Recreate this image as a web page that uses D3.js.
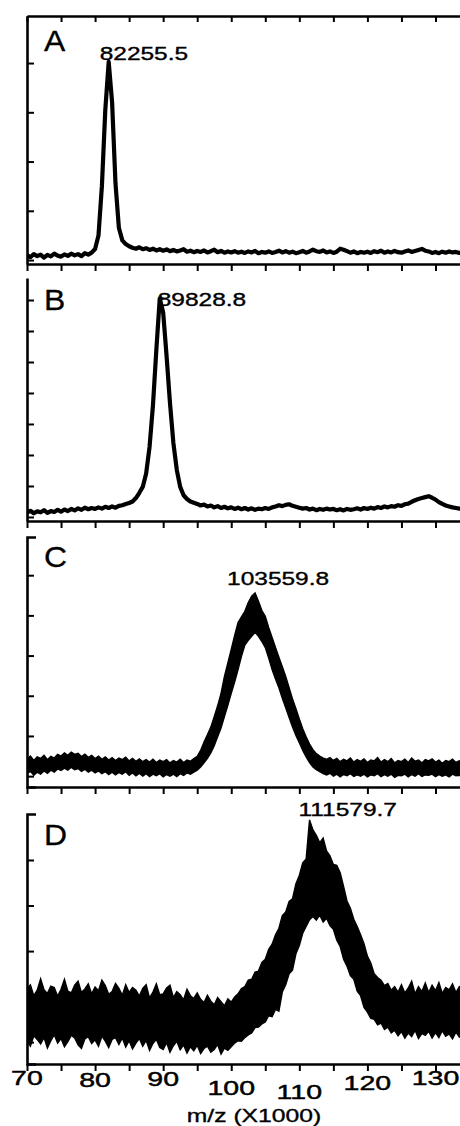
<!DOCTYPE html>
<html><head><meta charset="utf-8">
<script src="https://cdn.jsdelivr.net/npm/d3@7"></script>
<style>body{margin:0;background:#fff}svg{display:block}</style>
</head><body>
<script>
// ---------- DATA ----------
const mzGrid = [
70,70.5,71,71.5,72,72.5,73,73.5,74,74.5,
75,75.5,76,76.5,77,77.5,78,78.5,79,79.5,
80,80.5,81,81.5,82,82.5,83,83.5,84,84.5,
85,85.5,86,86.5,87,87.5,88,88.5,89,89.5,
90,90.5,91,91.5,92,92.5,93,93.5,94,94.5,
95,95.5,96,96.5,97,97.5,98,98.5,99,99.5,
100,100.5,101,101.5,102,102.5,103,103.5,104,104.5,
105,105.5,106,106.5,107,107.5,108,108.5,109,109.5,
110,110.5,111,111.5,112,112.5,113,113.5,114,114.5,
115,115.5,116,116.5,117,117.5,118,118.5,119,119.5,
120,120.5,121,121.5,122,122.5,123,123.5,124,124.5,
125,125.5,126,126.5,127,127.5,128,128.5,129,129.5,
130,130.5,131,131.5,132,132.5,133,133.5,134];

const intensityA = [
2.0,1.2,2.4,1.6,2.2,1.0,2.1,1.5,2.6,1.8,
1.4,2.3,1.7,2.6,1.9,2.4,1.6,2.8,2.2,3.0,
4.5,10,30,61,80.5,64,31,13,8,6.5,
5.6,5.0,4.6,5.2,4.4,4.8,4.1,4.6,3.9,4.4,
3.8,4.3,3.6,4.1,3.5,3.9,4.4,3.4,3.8,3.2,
3.7,3.3,3.9,3.1,3.6,4.2,3.2,3.7,3.0,3.5,
3.1,3.6,3.0,3.4,2.9,3.5,3.1,3.7,2.8,3.3,
3.0,3.5,2.9,3.3,3.8,3.1,3.6,3.0,3.4,2.8,
3.2,3.7,3.0,3.5,4.2,3.6,3.3,3.9,3.1,3.5,
2.9,3.4,4.6,4.2,3.6,3.0,3.5,2.8,3.3,3.0,
3.4,2.9,3.6,3.2,3.8,3.0,3.5,3.1,3.7,3.2,
3.0,3.5,3.9,3.3,3.7,4.1,4.5,3.8,3.5,2.9,
3.3,2.8,3.4,3.0,3.5,3.1,3.3,2.9,3.2];

const intensityB = [
1.4,2.0,1.2,1.8,1.5,2.2,1.3,1.9,1.6,2.3,
1.7,2.4,1.9,2.6,2.1,2.8,2.3,3.0,2.5,2.9,
2.6,3.1,2.7,3.3,2.9,3.4,3.0,3.6,3.8,4.2,
4.5,5.0,6.1,7.8,9.7,14,22.6,36,54,70.5,
66,52,36.8,23.9,15.2,9.7,7.0,5.8,5.0,4.6,
4.2,3.7,4.0,3.4,3.7,3.1,3.5,2.9,3.3,2.8,
3.1,2.6,3.0,2.5,2.9,2.4,2.8,2.3,2.7,2.5,
2.9,2.6,3.1,3.4,3.8,3.5,3.9,4.1,3.6,3.3,
3.0,2.7,2.9,2.4,2.7,2.2,2.6,2.3,2.7,2.4,
2.6,2.2,2.5,2.1,2.6,2.3,2.5,2.8,2.4,2.9,
2.6,3.0,2.7,3.2,2.9,3.4,3.1,3.5,3.3,3.8,
3.6,4.1,4.3,4.9,5.4,5.8,6.1,6.4,6.7,6.2,
5.6,4.8,4.2,3.7,3.4,3.1,2.9,2.7,2.6];

const highC = [
4.2,5.0,3.9,4.8,4.4,5.2,4.1,4.9,4.5,5.4,
5.0,5.8,5.2,6.0,5.4,5.7,4.9,5.5,4.7,5.2,
4.4,5.0,4.2,4.8,4.0,4.6,3.9,4.5,4.1,4.7,
3.8,4.4,3.7,4.3,3.6,4.1,3.5,4.2,3.4,4.0,
3.6,4.1,3.3,3.9,3.5,4.2,3.4,4.0,3.7,4.4,
4.9,6.4,8.5,10.3,12.2,14.8,17.5,20.6,24.8,28.2,
31.5,35.0,38.2,39.6,41.0,43.2,44.8,45.6,43.5,41.2,
39.8,37.0,34.5,32.0,29.6,27.2,24.8,22.0,19.2,16.8,
14.2,11.8,9.8,8.0,6.6,5.6,5.0,4.5,4.2,4.6,
3.9,4.4,3.6,4.2,3.8,4.5,3.5,4.1,3.7,4.3,
3.4,4.0,3.8,4.6,3.5,4.1,3.6,4.4,3.3,3.9,
3.6,4.2,3.4,4.5,3.7,4.0,3.3,4.1,3.8,4.3,
3.5,4.0,3.2,3.9,3.6,4.2,3.4,3.8,3.5];

const lowC = [
0.6,1.2,0.2,1.0,0.5,1.3,0.7,1.5,1.0,1.8,
1.4,2.0,1.5,2.2,1.6,1.9,1.2,1.7,1.0,1.5,
0.8,1.3,0.6,1.1,0.4,1.0,0.3,0.9,0.5,1.1,
0.2,0.8,0.1,0.7,0.0,0.6,-0.1,0.5,0.1,0.6,
-0.2,0.4,0.0,0.5,-0.1,0.6,0.2,0.8,0.5,1.0,
1.5,2.3,3.3,4.4,5.8,7.6,9.8,12.0,14.8,17.6,
20.6,23.4,26.5,29.8,32.6,33.8,34.8,35.8,34.8,33.5,
32.0,29.4,26.5,24.2,22.0,19.4,17.0,14.6,12.2,10.1,
8.3,6.4,4.8,3.4,2.3,1.6,1.1,0.6,0.3,0.7,
0.0,0.5,-0.2,0.4,0.1,0.6,-0.1,0.3,0.0,0.5,
-0.2,0.3,0.1,0.6,-0.1,0.4,0.0,0.5,-0.3,0.2,
0.1,0.5,-0.2,0.4,0.0,0.6,-0.1,0.3,0.2,0.5,
-0.1,0.4,0.0,0.3,-0.2,0.5,0.1,0.2,0.0];

const highD = [
11.8,12.6,10.2,11.4,13.9,11.5,10.7,12.3,12.0,10.1,
11.6,13.8,11.2,10.8,12.5,13.4,10.9,11.7,12.8,10.6,
12.1,11.3,13.6,12.4,10.5,11.1,12.9,11.8,10.3,12.6,
10.9,12.0,11.4,10.1,11.8,12.6,9.7,11.0,12.8,10.4,
10.6,11.9,12.5,9.8,11.1,10.4,9.3,11.6,10.2,9.6,
10.8,9.4,8.7,10.3,9.0,8.2,9.8,8.9,8.0,9.5,
8.8,9.9,10.6,11.8,12.2,13.6,13.8,15.4,15.6,17.5,
18.2,20.4,21.5,23.6,25.0,27.8,28.6,30.9,31.5,34.8,
36.6,39.4,40.2,48.8,46.6,45.4,43.8,44.8,42.0,40.9,
39.0,38.8,37.2,34.2,31.0,29.4,27.0,25.4,23.6,21.6,
18.9,17.4,15.0,14.2,13.6,12.4,12.9,11.4,12.2,11.0,
12.6,10.8,11.9,13.4,10.6,12.2,11.1,13.0,10.9,12.5,
11.3,13.1,10.7,12.0,11.5,12.8,10.9,12.2,11.4];

const lowD = [
0.2,-0.9,1.4,0.6,-0.4,1.0,-1.3,0.3,1.6,-0.2,
0.8,-1.0,0.1,1.5,0.9,-0.6,-1.4,0.7,1.2,-0.3,
0.5,-0.9,1.3,0.2,-1.2,0.6,1.0,-0.5,0.9,-1.1,
0.3,-1.5,-0.2,0.8,-0.9,0.4,-1.8,-0.3,0.6,-1.2,
-1.6,-0.1,-2.2,-0.8,0.2,-1.7,-0.6,-2.4,-1.0,-1.9,
-0.7,-2.5,-1.4,-0.9,-2.2,-1.6,-0.5,-2.6,-1.3,-1.8,
-1.0,-0.2,0.3,0.2,1.0,1.6,2.0,3.2,3.3,4.0,
4.4,5.8,5.6,7.2,6.8,11.0,12.6,15.0,15.8,19.4,
21.2,23.9,25.4,26.9,27.6,26.8,27.9,26.4,27.2,25.6,
24.8,22.4,21.0,18.2,16.7,14.6,13.8,11.2,10.2,7.6,
6.6,5.2,5.0,3.8,4.2,2.8,3.3,2.0,2.6,1.4,
2.3,0.9,2.0,1.2,2.6,0.8,1.9,1.5,2.4,0.9,
2.1,1.0,2.5,1.3,1.8,0.7,2.2,1.1,1.6];

const panelLetters = ["A", "B", "C", "D"];
const peakLabels = ["82255.5", "89828.8", "103559.8", "111579.7"];
const peakMz = [82.0, 89.5, 103.5, 111.5];
const xTickValues = [70,75,80,85,90,95,100,105,110,115,120,125,130];
const xTickLabelValues = [70,80,90,100,110,120,130];
const yTicksA = [0,20,40,60,80];
const yTicksB = [0,10,20,30,40,50,60,70];
const yTicksC = [0,10,20,30,40,50];
const yTicksD = [0,10,20,30,40];
const xAxisTitle = "m/z (X1000)";

// ---------- LAYOUT / STYLE ----------
const W = 460, H = 1126;
const FONT = "'Liberation Sans', Arial, Helvetica, sans-serif";
const x = d3.scaleLinear().domain([70, 133.6]).range([27, 460]);

const panels = [
  {top:16, bottom:264, domain:[-1.6, 99.1], ticks:yTicksA, frame:true, cap:false,
   kind:"line", series:[intensityA], letterY:51, labelDx:-9, labelY:60},
  {top:278, bottom:521, domain:[-1.3, 77.1], ticks:yTicksB, frame:false, cap:false,
   kind:"line", series:[intensityB], letterY:310, labelDx:-2, labelY:306},
  {top:537, bottom:787, domain:[-2.7, 59.5], ticks:yTicksC, frame:false, cap:true,
   kind:"area", series:[lowC, highC], letterY:567, labelDx:-28, labelY:585},
  {top:814, bottom:1064, domain:[-4.8, 50.1], ticks:yTicksD, frame:false, cap:true,
   kind:"area", series:[lowD, highD], letterY:845, labelDx:-11, labelY:816}
];
const tickLabelDy = [0, 2, 1, 10, 14, 5, 0];

const svg = d3.select("body").append("svg").attr("width", W).attr("height", H)
  .style("font-family", FONT);

panels.forEach((p, i) => {
  const y = d3.scaleLinear().domain(p.domain).range([p.bottom, p.top]);
  const g = svg.append("g");
  const clipId = "clip" + i;
  svg.append("clipPath").attr("id", clipId).append("rect")
    .attr("x", 27).attr("y", p.top).attr("width", W - 27).attr("height", p.bottom - p.top);

  const plot = g.append("g").attr("clip-path", `url(#${clipId})`);
  if (p.kind === "line") {
    const line = d3.line().x((d, j) => x(mzGrid[j])).y(d => y(d));
    plot.append("path").datum(p.series[0]).attr("d", line)
      .attr("fill", "none").attr("stroke", "#000").attr("stroke-width", 4.2)
      .attr("stroke-linejoin", "round");
  } else {
    const lo = p.series[0], hi = p.series[1];
    const area = d3.area().x((d, j) => x(mzGrid[j])).y0((d, j) => y(lo[j])).y1(d => y(d));
    plot.append("path").datum(hi).attr("d", area)
      .attr("fill", "#000").attr("stroke", "#000").attr("stroke-width", 1.4)
      .attr("stroke-linejoin", "miter");
  }

  // bottom axis
  const xa = g.append("g").attr("transform", `translate(0,${p.bottom})`)
    .call(d3.axisBottom(x).tickValues(xTickValues).tickSize(7).tickSizeOuter(0).tickFormat(""));
  xa.select(".domain").attr("stroke-width", 2.6);
  xa.selectAll(".tick line").attr("stroke-width", 2);

  // left axis
  const ya = g.append("g").attr("transform", `translate(27,0)`)
    .call(d3.axisLeft(y).tickValues(p.ticks).tickSizeInner(-7)
      .tickSizeOuter(p.cap ? -9 : 0).tickFormat(""));
  ya.select(".domain").attr("stroke-width", 2.6);
  ya.selectAll(".tick line").attr("stroke-width", 2);

  if (p.frame) {
    const ta = g.append("g").attr("transform", `translate(0,${p.top})`)
      .call(d3.axisTop(x).tickValues(xTickValues).tickSize(-6).tickSizeOuter(0).tickFormat(""));
    ta.select(".domain").attr("stroke-width", 2.6);
    ta.selectAll(".tick line").attr("stroke-width", 2);
  }

  // panel letter
  g.append("text").attr("transform", `translate(44,${p.letterY}) scale(1.1,1)`)
    .attr("font-size", 29).attr("fill", "#000").attr("stroke", "#000").attr("stroke-width", 0.3)
    .text(panelLetters[i]);

  // peak label
  g.append("text")
    .attr("transform", `translate(${x(peakMz[i]) + p.labelDx},${p.labelY}) scale(1.36,1)`)
    .attr("font-size", 18).attr("fill", "#000").attr("stroke", "#000").attr("stroke-width", 0.35)
    .text(peakLabels[i]);
});

// x tick labels (bottom panel only)
svg.append("g").selectAll("text").data(xTickLabelValues).join("text")
  .attr("transform", (d, k) => `translate(${x(d)},${1085 + tickLabelDy[k]}) scale(1.36,1)`)
  .attr("text-anchor", "middle").attr("font-size", 21).attr("fill", "#000")
  .attr("stroke", "#000").attr("stroke-width", 0.45)
  .text(d => d);

svg.append("text").attr("transform", `translate(254,1122) scale(1.3,1)`)
  .attr("text-anchor", "middle").attr("font-size", 19).attr("fill", "#000")
  .attr("stroke", "#000").attr("stroke-width", 0.35)
  .text(xAxisTitle);
</script>
</body></html>
